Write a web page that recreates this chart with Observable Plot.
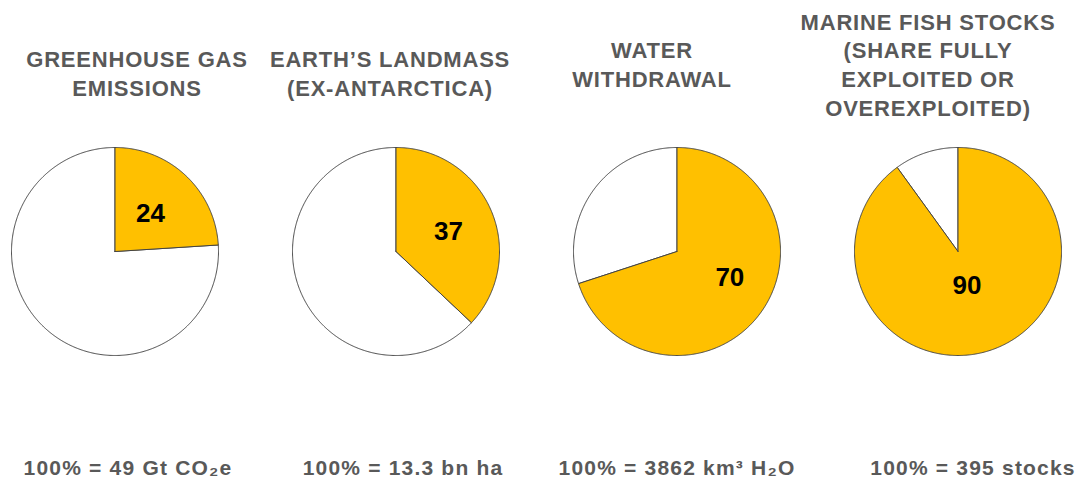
<!DOCTYPE html>
<html>
<head>
<meta charset="utf-8">
<script src="https://cdn.jsdelivr.net/npm/d3@7"></script>
<script src="https://cdn.jsdelivr.net/npm/@observablehq/plot@0.6"></script>
<style>
  html, body { margin: 0; padding: 0; background: #ffffff; }
  #chart svg { display: block; font-family: "Liberation Sans", Arial, sans-serif; }
  #chart g[aria-description="title"] text { letter-spacing: 0.8px; }
  #chart g[aria-description="caption"] text { letter-spacing: 1.2px; }
</style>
</head>
<body>
<div id="chart"></div>
<script>
// ---- data ----
const panels = ["ghg", "land", "water", "fish"];
const titles = [
  "GREENHOUSE GAS\nEMISSIONS",
  "EARTH’S LANDMASS\n(EX-ANTARCTICA)",
  "WATER\nWITHDRAWAL",
  "MARINE FISH STOCKS\n(SHARE FULLY\nEXPLOITED OR\nOVEREXPLOITED)"
];
const shares = [24, 37, 70, 90];
const totals = [
  "100% = 49 Gt CO₂e",
  "100% = 13.3 bn ha",
  "100% = 3862 km³ H₂O",
  "100% = 395 stocks"
];

// ---- layout (styling offsets, px) ----
const titleDx = [22, -6, -25, -30];
const titleDy = [-75, -75, -84, -84];
const captionDx = [13, 7, 0, 15];
const labelDx = [0, 5, 11, -7];
const labelDy = [0, 1, -4, -15];

// ---- build wedge polygons (unit circle, clockwise from 12 o'clock) ----
function wedge(panel, a0, a1, kind) {
  const pts = [{panel, kind, x: 0, y: 0}];
  const n = Math.max(2, Math.ceil((a1 - a0) / (Math.PI / 360)));
  for (let k = 0; k <= n; k++) {
    const a = a0 + (a1 - a0) * k / n;
    pts.push({panel, kind, x: Math.sin(a), y: Math.cos(a)});
  }
  pts.push({panel, kind, x: 0, y: 0});
  return pts;
}
const gold = [], rest = [], labels = [];
panels.forEach((p, i) => {
  const a = shares[i] / 100 * 2 * Math.PI;
  gold.push(...wedge(p, 0, a, "share"));
  rest.push(...wedge(p, a, 2 * Math.PI, "rest"));
  const m = a / 2;
  labels.push({panel: p, x: 0.5 * Math.sin(m), y: 0.5 * Math.cos(m), text: String(shares[i])});
});
const rows = panels.map((p, i) => ({panel: p, title: titles[i], total: totals[i]}));

const textStyle = {fontWeight: "bold", fill: "#595959"};

const marks = [
  Plot.line(rest, {fx: "panel", x: "x", y: "y", z: "panel", fill: "#ffffff", stroke: "#444444", strokeWidth: 1, strokeLinejoin: "round"}),
  Plot.line(gold, {fx: "panel", x: "x", y: "y", z: "panel", fill: "#FFC000", stroke: "#444444", strokeWidth: 1, strokeLinejoin: "round"}),
  ...labels.map((l, i) => Plot.text([l], {
    fx: "panel", x: "x", y: "y", text: "text", dx: labelDx[i], dy: labelDy[i],
    fontSize: 26, fontWeight: "bold", fill: "#000000"
  })),
  ...rows.map((r, i) => Plot.text([r], {
    fx: "panel", text: "title", frameAnchor: "top", lineAnchor: "middle",
    dx: titleDx[i], dy: titleDy[i], fontSize: 22, lineHeight: 1.3,
    ariaDescription: "title", ...textStyle
  })),
  ...rows.map((r, i) => Plot.text([r], {
    fx: "panel", text: "total", frameAnchor: "bottom", lineAnchor: "middle",
    dx: captionDx[i], dy: 113, fontSize: 21,
    ariaDescription: "caption", ...textStyle
  }))
];

const chart = Plot.plot({
  width: 1083,
  height: 482,
  marginLeft: 10,
  marginRight: 20,
  marginTop: 147,
  marginBottom: 127,
  style: {background: "#ffffff", overflow: "visible"},
  fx: {domain: panels, axis: null, paddingInner: 0.2616, paddingOuter: 0},
  x: {domain: [-1, 1], axis: null},
  y: {domain: [-1, 1], axis: null},
  marks
});
document.getElementById("chart").appendChild(chart);
</script>
</body>
</html>
